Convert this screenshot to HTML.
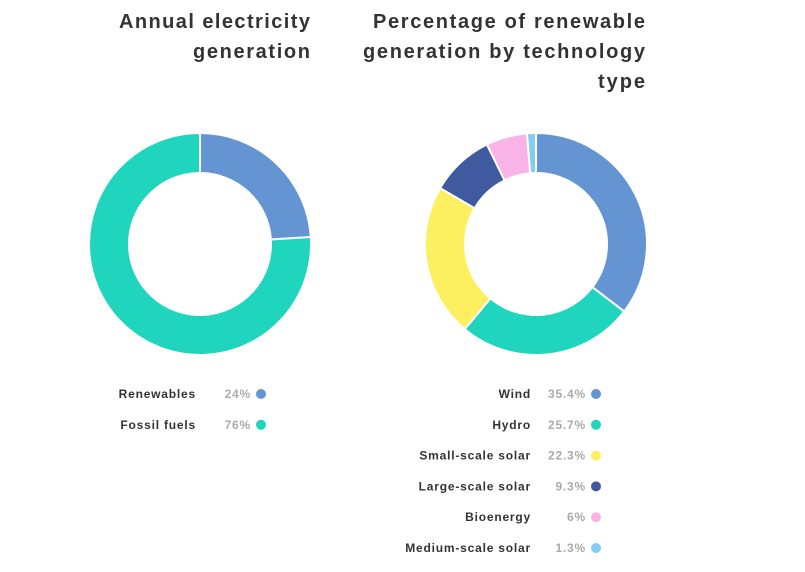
<!DOCTYPE html>
<html><head><meta charset="utf-8"><style>
body{margin:0;background:#fff;width:805px;height:572px;overflow:hidden;font-family:"Liberation Sans",sans-serif}
svg{display:block}
</style></head><body>
<svg id="c" width="805" height="572">
<g font-size="20" font-weight="bold" fill="#333" text-anchor="end">
<text x="310" y="28" textLength="191" lengthAdjust="spacing">Annual electricity</text><text x="310" y="58" textLength="117" lengthAdjust="spacing">generation</text></g>
<g font-size="20" font-weight="bold" fill="#333" text-anchor="end">
<text x="645" y="28" textLength="272" lengthAdjust="spacing">Percentage of renewable</text><text x="645" y="58" textLength="282" lengthAdjust="spacing">generation by technology</text><text x="645" y="88" textLength="47" lengthAdjust="spacing">type</text></g>
</svg>
<script>
const leftLabels=["Renewables","Fossil fuels"];
const leftValues=[24,76];
const leftColors=["#6495d2","#20d5bd"];
const rightLabels=["Wind","Hydro","Small-scale solar","Large-scale solar","Bioenergy","Medium-scale solar"];
const rightValues=[35.4,25.7,22.3,9.3,6,1.3];
const rightColors=["#6495d2","#20d5bd","#fdf060","#3f5a9e","#f9b3e6","#83cdf0"];
const NS="http://www.w3.org/2000/svg";
const svg=document.getElementById('c');
function mk(t,a){const e=document.createElementNS(NS,t);for(const k in a)e.setAttribute(k,a[k]);svg.appendChild(e);return e;}
function donut(cx,cy,R,r,vals,cols,name){
 const tot=vals.reduce((a,b)=>a+b,0);let a0=0;
 vals.forEach((v,i)=>{
  const a1=a0+v/tot*2*Math.PI;
  const p=(rad,a)=>[cx+rad*Math.sin(a),cy-rad*Math.cos(a)];
  const [x0,y0]=p(R,a0),[x1,y1]=p(R,a1),[x2,y2]=p(r,a1),[x3,y3]=p(r,a0);
  const lg=(a1-a0)>Math.PI?1:0;
  const e=mk('path',{d:`M${x0},${y0}A${R},${R} 0 ${lg} 1 ${x1},${y1}L${x2},${y2}A${r},${r} 0 ${lg} 0 ${x3},${y3}Z`,fill:cols[i],stroke:'#fff','stroke-width':2});
  
  
  a0=a1;
 });
}
function legend(xl,xv,xd,y0,labs,vals,cols,name){
 labs.forEach((l,i)=>{
  const y=y0+i*30.8;
  const t=mk('text',{x:xl,y:y+4,'text-anchor':'end','font-size':12,'font-weight':'bold',fill:'#333','letter-spacing':'0.8'});t.textContent=l;
  
  
  const v=mk('text',{x:xv,y:y+4,'text-anchor':'end','font-size':12,'font-weight':'bold',fill:'#aaa','letter-spacing':'0.8'});v.textContent=vals[i]+'%';
  
  
  const d=mk('circle',{cx:xd,cy:y,r:5,fill:cols[i]});
  
  
 });
}
donut(200,244,111,71,leftValues,leftColors,'left');
donut(536,244,111,71,rightValues,rightColors,'right');
legend(196,251,261,394,leftLabels,leftValues,leftColors,'left');
legend(531,586,596,394,rightLabels,rightValues,rightColors,'right');
</script>
</body></html>
